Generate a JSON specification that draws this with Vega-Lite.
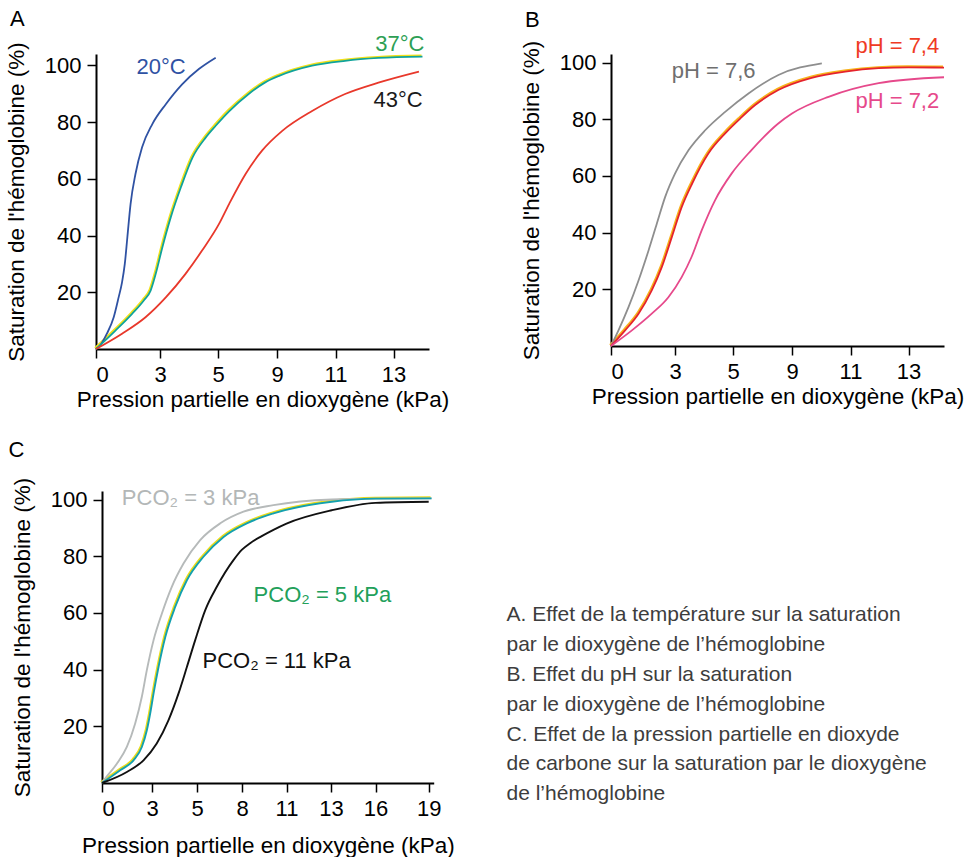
{
  "$schema": "https://vega.github.io/schema/vega-lite/v6.json",
  "autosize": {"type": "pad"},
  "padding": {"left": 5, "top": 8, "right": 0, "bottom": 0},
  "background": "white",
  "columns": 2,
  "spacing": {"row": 142, "column": 177},
  "bounds": "flush",
  "align": "each",
  "datasets": {
    "courbes": [
      {"panneau": "A", "courbe": "20 °C", "pO2": 0, "saturation": 0},
      {"panneau": "A", "courbe": "20 °C", "pO2": 0.12, "saturation": 0.6},
      {"panneau": "A", "courbe": "20 °C", "pO2": 0.51, "saturation": 5.4},
      {"panneau": "A", "courbe": "20 °C", "pO2": 0.83, "saturation": 11.2},
      {"panneau": "A", "courbe": "20 °C", "pO2": 1.06, "saturation": 18.2},
      {"panneau": "A", "courbe": "20 °C", "pO2": 1.22, "saturation": 23.5},
      {"panneau": "A", "courbe": "20 °C", "pO2": 1.35, "saturation": 30.0},
      {"panneau": "A", "courbe": "20 °C", "pO2": 1.47, "saturation": 39.4},
      {"panneau": "A", "courbe": "20 °C", "pO2": 1.62, "saturation": 51.1},
      {"panneau": "A", "courbe": "20 °C", "pO2": 1.85, "saturation": 61.7},
      {"panneau": "A", "courbe": "20 °C", "pO2": 2.16, "saturation": 71.1},
      {"panneau": "A", "courbe": "20 °C", "pO2": 2.64, "saturation": 79.3},
      {"panneau": "A", "courbe": "20 °C", "pO2": 3.2, "saturation": 86.3},
      {"panneau": "A", "courbe": "20 °C", "pO2": 3.77, "saturation": 93.4},
      {"panneau": "A", "courbe": "20 °C", "pO2": 4.34, "saturation": 98.7},
      {"panneau": "A", "courbe": "20 °C", "pO2": 4.92, "saturation": 102.7},
      {"panneau": "A", "courbe": "37 °C", "pO2": 0, "saturation": 0},
      {"panneau": "A", "courbe": "37 °C", "pO2": 0.91, "saturation": 6.5},
      {"panneau": "A", "courbe": "37 °C", "pO2": 1.69, "saturation": 12.4},
      {"panneau": "A", "courbe": "37 °C", "pO2": 2.24, "saturation": 17.1},
      {"panneau": "A", "courbe": "37 °C", "pO2": 2.56, "saturation": 20.6},
      {"panneau": "A", "courbe": "37 °C", "pO2": 2.8, "saturation": 26.5},
      {"panneau": "A", "courbe": "37 °C", "pO2": 3.08, "saturation": 35.8},
      {"panneau": "A", "courbe": "37 °C", "pO2": 3.37, "saturation": 46.4},
      {"panneau": "A", "courbe": "37 °C", "pO2": 3.72, "saturation": 57.0},
      {"panneau": "A", "courbe": "37 °C", "pO2": 4.12, "saturation": 67.5},
      {"panneau": "A", "courbe": "37 °C", "pO2": 4.58, "saturation": 74.6},
      {"panneau": "A", "courbe": "37 °C", "pO2": 4.92, "saturation": 78.7},
      {"panneau": "A", "courbe": "37 °C", "pO2": 5.75, "saturation": 83.8},
      {"panneau": "A", "courbe": "37 °C", "pO2": 7.1, "saturation": 90.0},
      {"panneau": "A", "courbe": "37 °C", "pO2": 8.2, "saturation": 94.0},
      {"panneau": "A", "courbe": "37 °C", "pO2": 9.07, "saturation": 96.3},
      {"panneau": "A", "courbe": "37 °C", "pO2": 10.2, "saturation": 99.9},
      {"panneau": "A", "courbe": "37 °C", "pO2": 11.33, "saturation": 101.6},
      {"panneau": "A", "courbe": "37 °C", "pO2": 12.48, "saturation": 102.6},
      {"panneau": "A", "courbe": "37 °C", "pO2": 13.98, "saturation": 103.1},
      {"panneau": "A", "courbe": "43 °C", "pO2": 0, "saturation": 0},
      {"panneau": "A", "courbe": "43 °C", "pO2": 1.22, "saturation": 5.4},
      {"panneau": "A", "courbe": "43 °C", "pO2": 2.32, "saturation": 11.2},
      {"panneau": "A", "courbe": "43 °C", "pO2": 3.2, "saturation": 18.2},
      {"panneau": "A", "courbe": "43 °C", "pO2": 3.88, "saturation": 26.5},
      {"panneau": "A", "courbe": "43 °C", "pO2": 4.45, "saturation": 34.7},
      {"panneau": "A", "courbe": "43 °C", "pO2": 5.07, "saturation": 44.1},
      {"panneau": "A", "courbe": "43 °C", "pO2": 5.75, "saturation": 51.1},
      {"panneau": "A", "courbe": "43 °C", "pO2": 6.88, "saturation": 61.8},
      {"panneau": "A", "courbe": "43 °C", "pO2": 8.0, "saturation": 70.0},
      {"panneau": "A", "courbe": "43 °C", "pO2": 9.18, "saturation": 76.9},
      {"panneau": "A", "courbe": "43 °C", "pO2": 10.2, "saturation": 83.9},
      {"panneau": "A", "courbe": "43 °C", "pO2": 11.33, "saturation": 89.9},
      {"panneau": "A", "courbe": "43 °C", "pO2": 12.48, "saturation": 93.9},
      {"panneau": "A", "courbe": "43 °C", "pO2": 13.86, "saturation": 97.8},
      {"panneau": "B", "courbe": "pH = 7,6", "pO2": 0, "saturation": 0},
      {"panneau": "B", "courbe": "pH = 7,6", "pO2": 0.35, "saturation": 5.5},
      {"panneau": "B", "courbe": "pH = 7,6", "pO2": 0.82, "saturation": 13.7},
      {"panneau": "B", "courbe": "pH = 7,6", "pO2": 1.29, "saturation": 23.1},
      {"panneau": "B", "courbe": "pH = 7,6", "pO2": 1.76, "saturation": 33.7},
      {"panneau": "B", "courbe": "pH = 7,6", "pO2": 2.15, "saturation": 43.2},
      {"panneau": "B", "courbe": "pH = 7,6", "pO2": 2.54, "saturation": 52.6},
      {"panneau": "B", "courbe": "pH = 7,6", "pO2": 3.0, "saturation": 60.8},
      {"panneau": "B", "courbe": "pH = 7,6", "pO2": 3.47, "saturation": 69.1},
      {"panneau": "B", "courbe": "pH = 7,6", "pO2": 4.04, "saturation": 76.1},
      {"panneau": "B", "courbe": "pH = 7,6", "pO2": 4.73, "saturation": 82.6},
      {"panneau": "B", "courbe": "pH = 7,6", "pO2": 6.05, "saturation": 89.1},
      {"panneau": "B", "courbe": "pH = 7,6", "pO2": 8.08, "saturation": 95.6},
      {"panneau": "B", "courbe": "pH = 7,6", "pO2": 10.02, "saturation": 99.7},
      {"panneau": "B", "courbe": "pH = 7,4", "pO2": 0, "saturation": 0},
      {"panneau": "B", "courbe": "pH = 7,4", "pO2": 0.66, "saturation": 5.5},
      {"panneau": "B", "courbe": "pH = 7,4", "pO2": 1.29, "saturation": 11.4},
      {"panneau": "B", "courbe": "pH = 7,4", "pO2": 1.91, "saturation": 19.6},
      {"panneau": "B", "courbe": "pH = 7,4", "pO2": 2.38, "saturation": 27.8},
      {"panneau": "B", "courbe": "pH = 7,4", "pO2": 2.85, "saturation": 38.4},
      {"panneau": "B", "courbe": "pH = 7,4", "pO2": 3.23, "saturation": 49.0},
      {"panneau": "B", "courbe": "pH = 7,4", "pO2": 3.6, "saturation": 57.5},
      {"panneau": "B", "courbe": "pH = 7,4", "pO2": 4.15, "saturation": 67.9},
      {"panneau": "B", "courbe": "pH = 7,4", "pO2": 4.73, "saturation": 75.0},
      {"panneau": "B", "courbe": "pH = 7,4", "pO2": 5.5, "saturation": 80.3},
      {"panneau": "B", "courbe": "pH = 7,4", "pO2": 6.48, "saturation": 84.9},
      {"panneau": "B", "courbe": "pH = 7,4", "pO2": 8.07, "saturation": 90.3},
      {"panneau": "B", "courbe": "pH = 7,4", "pO2": 9.67, "saturation": 94.6},
      {"panneau": "B", "courbe": "pH = 7,4", "pO2": 10.82, "saturation": 96.8},
      {"panneau": "B", "courbe": "pH = 7,4", "pO2": 11.97, "saturation": 98.0},
      {"panneau": "B", "courbe": "pH = 7,4", "pO2": 13.0, "saturation": 98.3},
      {"panneau": "B", "courbe": "pH = 7,4", "pO2": 14.2, "saturation": 98.2},
      {"panneau": "B", "courbe": "pH = 7,2", "pO2": 0, "saturation": 0},
      {"panneau": "B", "courbe": "pH = 7,2", "pO2": 0.98, "saturation": 5.5},
      {"panneau": "B", "courbe": "pH = 7,2", "pO2": 1.91, "saturation": 11.4},
      {"panneau": "B", "courbe": "pH = 7,2", "pO2": 2.69, "saturation": 17.2},
      {"panneau": "B", "courbe": "pH = 7,2", "pO2": 3.23, "saturation": 24.3},
      {"panneau": "B", "courbe": "pH = 7,2", "pO2": 3.57, "saturation": 31.4},
      {"panneau": "B", "courbe": "pH = 7,2", "pO2": 3.92, "saturation": 40.8},
      {"panneau": "B", "courbe": "pH = 7,2", "pO2": 4.38, "saturation": 51.4},
      {"panneau": "B", "courbe": "pH = 7,2", "pO2": 4.95, "saturation": 60.8},
      {"panneau": "B", "courbe": "pH = 7,2", "pO2": 6.25, "saturation": 69.1},
      {"panneau": "B", "courbe": "pH = 7,2", "pO2": 8.07, "saturation": 78.5},
      {"panneau": "B", "courbe": "pH = 7,2", "pO2": 9.0, "saturation": 82.0},
      {"panneau": "B", "courbe": "pH = 7,2", "pO2": 10.25, "saturation": 87.9},
      {"panneau": "B", "courbe": "pH = 7,2", "pO2": 11.97, "saturation": 92.7},
      {"panneau": "B", "courbe": "pH = 7,2", "pO2": 14.2, "saturation": 94.8},
      {"panneau": "C", "courbe": "PCO2 = 3 kPa", "pO2": 0, "saturation": 0},
      {"panneau": "C", "courbe": "PCO2 = 3 kPa", "pO2": 0.19, "saturation": 1.6},
      {"panneau": "C", "courbe": "PCO2 = 3 kPa", "pO2": 0.89, "saturation": 6.8},
      {"panneau": "C", "courbe": "PCO2 = 3 kPa", "pO2": 1.49, "saturation": 12.7},
      {"panneau": "C", "courbe": "PCO2 = 3 kPa", "pO2": 1.99, "saturation": 21.0},
      {"panneau": "C", "courbe": "PCO2 = 3 kPa", "pO2": 2.39, "saturation": 30.4},
      {"panneau": "C", "courbe": "PCO2 = 3 kPa", "pO2": 2.69, "saturation": 39.8},
      {"panneau": "C", "courbe": "PCO2 = 3 kPa", "pO2": 3.07, "saturation": 50.4},
      {"panneau": "C", "courbe": "PCO2 = 3 kPa", "pO2": 3.44, "saturation": 59.8},
      {"panneau": "C", "courbe": "PCO2 = 3 kPa", "pO2": 3.88, "saturation": 69.2},
      {"panneau": "C", "courbe": "PCO2 = 3 kPa", "pO2": 4.4, "saturation": 77.4},
      {"panneau": "C", "courbe": "PCO2 = 3 kPa", "pO2": 5.21, "saturation": 85.7},
      {"panneau": "C", "courbe": "PCO2 = 3 kPa", "pO2": 6.55, "saturation": 91.6},
      {"panneau": "C", "courbe": "PCO2 = 3 kPa", "pO2": 8.1, "saturation": 95.7},
      {"panneau": "C", "courbe": "PCO2 = 3 kPa", "pO2": 10.12, "saturation": 98.0},
      {"panneau": "C", "courbe": "PCO2 = 3 kPa", "pO2": 13.05, "saturation": 100.0},
      {"panneau": "C", "courbe": "PCO2 = 3 kPa", "pO2": 16.0, "saturation": 100.3},
      {"panneau": "C", "courbe": "PCO2 = 3 kPa", "pO2": 19.17, "saturation": 100.4},
      {"panneau": "C", "courbe": "PCO2 = 5 kPa", "pO2": 0, "saturation": 0},
      {"panneau": "C", "courbe": "PCO2 = 5 kPa", "pO2": 1.09, "saturation": 4.5},
      {"panneau": "C", "courbe": "PCO2 = 5 kPa", "pO2": 1.89, "saturation": 8.0},
      {"panneau": "C", "courbe": "PCO2 = 5 kPa", "pO2": 2.39, "saturation": 12.7},
      {"panneau": "C", "courbe": "PCO2 = 5 kPa", "pO2": 2.69, "saturation": 18.6},
      {"panneau": "C", "courbe": "PCO2 = 5 kPa", "pO2": 2.89, "saturation": 24.5},
      {"panneau": "C", "courbe": "PCO2 = 5 kPa", "pO2": 3.07, "saturation": 31.6},
      {"panneau": "C", "courbe": "PCO2 = 5 kPa", "pO2": 3.29, "saturation": 40.9},
      {"panneau": "C", "courbe": "PCO2 = 5 kPa", "pO2": 3.59, "saturation": 51.5},
      {"panneau": "C", "courbe": "PCO2 = 5 kPa", "pO2": 4.03, "saturation": 62.1},
      {"panneau": "C", "courbe": "PCO2 = 5 kPa", "pO2": 4.55, "saturation": 71.5},
      {"panneau": "C", "courbe": "PCO2 = 5 kPa", "pO2": 5.43, "saturation": 79.8},
      {"panneau": "C", "courbe": "PCO2 = 5 kPa", "pO2": 6.77, "saturation": 86.8},
      {"panneau": "C", "courbe": "PCO2 = 5 kPa", "pO2": 8.32, "saturation": 91.6},
      {"panneau": "C", "courbe": "PCO2 = 5 kPa", "pO2": 10.12, "saturation": 95.1},
      {"panneau": "C", "courbe": "PCO2 = 5 kPa", "pO2": 13.05, "saturation": 99.2},
      {"panneau": "C", "courbe": "PCO2 = 5 kPa", "pO2": 16.0, "saturation": 100.3},
      {"panneau": "C", "courbe": "PCO2 = 5 kPa", "pO2": 19.17, "saturation": 100.4},
      {"panneau": "C", "courbe": "PCO2 = 11 kPa", "pO2": 0, "saturation": 0},
      {"panneau": "C", "courbe": "PCO2 = 11 kPa", "pO2": 1.49, "saturation": 3.9},
      {"panneau": "C", "courbe": "PCO2 = 11 kPa", "pO2": 2.49, "saturation": 8.0},
      {"panneau": "C", "courbe": "PCO2 = 11 kPa", "pO2": 3.21, "saturation": 13.9},
      {"panneau": "C", "courbe": "PCO2 = 11 kPa", "pO2": 3.73, "saturation": 22.1},
      {"panneau": "C", "courbe": "PCO2 = 11 kPa", "pO2": 4.18, "saturation": 31.6},
      {"panneau": "C", "courbe": "PCO2 = 11 kPa", "pO2": 4.55, "saturation": 40.9},
      {"panneau": "C", "courbe": "PCO2 = 11 kPa", "pO2": 4.92, "saturation": 50.4},
      {"panneau": "C", "courbe": "PCO2 = 11 kPa", "pO2": 5.55, "saturation": 61.0},
      {"panneau": "C", "courbe": "PCO2 = 11 kPa", "pO2": 6.32, "saturation": 69.2},
      {"panneau": "C", "courbe": "PCO2 = 11 kPa", "pO2": 7.43, "saturation": 78.6},
      {"panneau": "C", "courbe": "PCO2 = 11 kPa", "pO2": 8.0, "saturation": 82.3},
      {"panneau": "C", "courbe": "PCO2 = 11 kPa", "pO2": 8.55, "saturation": 84.6},
      {"panneau": "C", "courbe": "PCO2 = 11 kPa", "pO2": 9.3, "saturation": 87.0},
      {"panneau": "C", "courbe": "PCO2 = 11 kPa", "pO2": 10.12, "saturation": 89.3},
      {"panneau": "C", "courbe": "PCO2 = 11 kPa", "pO2": 11.0, "saturation": 91.5},
      {"panneau": "C", "courbe": "PCO2 = 11 kPa", "pO2": 13.05, "saturation": 96.2},
      {"panneau": "C", "courbe": "PCO2 = 11 kPa", "pO2": 16.0, "saturation": 98.8},
      {"panneau": "C", "courbe": "PCO2 = 11 kPa", "pO2": 19.0, "saturation": 99.2}
    ],
    "etiquettes": [
      {"panneau": "A", "courbe": "20 °C", "texte": "20°C", "pO2": 1.9, "saturation": 96.8},
      {"panneau": "A", "courbe": "37 °C", "texte": "37°C", "pO2": 12.37, "saturation": 105.2},
      {"panneau": "A", "courbe": "43 °C", "texte": "43°C", "pO2": 12.31, "saturation": 85.2},
      {"panneau": "B", "courbe": "pH = 7,6", "texte": "pH = 7,6", "pO2": 2.85, "saturation": 94.4},
      {"panneau": "B", "courbe": "pH = 7,4", "texte": "pH = 7,4", "pO2": 11.17, "saturation": 103.2},
      {"panneau": "B", "courbe": "pH = 7,2", "texte": "pH = 7,2", "pO2": 11.17, "saturation": 83.8},
      {"panneau": "C", "courbe": "PCO2 = 3 kPa", "texte": "PCO₂ = 3 kPa", "pO2": 1.19, "saturation": 98.0},
      {"panneau": "C", "courbe": "PCO2 = 5 kPa", "texte": "PCO₂ = 5 kPa", "pO2": 8.78, "saturation": 63.9},
      {"panneau": "C", "courbe": "PCO2 = 11 kPa", "texte": "PCO₂ = 11 kPa", "pO2": 5.37, "saturation": 40.4}
    ],
    "legende": [
      {"colonne": 0, "ligne": 1, "texte": "A. Effet de la température sur la saturation"},
      {"colonne": 0, "ligne": 2, "texte": "par le dioxygène de l’hémoglobine"},
      {"colonne": 0, "ligne": 3, "texte": "B. Effet du pH sur la saturation"},
      {"colonne": 0, "ligne": 4, "texte": "par le dioxygène de l’hémoglobine"},
      {"colonne": 0, "ligne": 5, "texte": "C. Effet de la pression partielle en dioxyde"},
      {"colonne": 0, "ligne": 6, "texte": "de carbone sur la saturation par le dioxygène"},
      {"colonne": 0, "ligne": 7, "texte": "de l’hémoglobine"}
    ]
  },
  "concat": [
    {
      "width": 333,
      "height": 295,
      "title": {"text": "A", "anchor": "start", "frame": "group", "baseline": "alphabetic", "dx": -86, "offset": -15.9},
      "encoding": {
        "x": {"field": "pO2", "type": "quantitative",
              "scale": {"domain": [0, 3, 5, 9, 11, 13, 14.2], "range": [0, 64, 122, 181, 239.5, 297.5, 333], "nice": false, "zero": false},
              "axis": {"values": [0, 3, 5, 9, 11, 13], "title": "Pression partielle en dioxygène (kPa)", "titlePadding": 3}},
        "y": {"field": "saturation", "type": "quantitative",
              "scale": {"domain": [0, 104], "nice": false, "zero": false},
              "axis": {"values": [20, 40, 60, 80, 100], "title": "Saturation de l'hémoglobine (%)"}}
      },
      "layer": [
        {"data": {"name": "courbes"},
         "transform": [{"filter": "datum.courbe === '37 °C'"}],
         "mark": {"type": "line", "interpolate": "monotone", "color": "#f2e01a", "strokeWidth": 2, "xOffset": -1, "yOffset": -1},
         "encoding": {"detail": {"field": "courbe"}}},
        {"data": {"name": "courbes"},
         "transform": [{"filter": "datum.panneau === 'A'"}],
         "mark": {"type": "line", "interpolate": "monotone", "strokeWidth": 1.8},
         "encoding": {"stroke": {"field": "courbe", "type": "nominal", "legend": null,
           "scale": {"domain": ["20 °C", "37 °C", "43 °C", "pH = 7,6", "pH = 7,4", "pH = 7,2", "PCO2 = 3 kPa", "PCO2 = 5 kPa", "PCO2 = 11 kPa"],
                     "range": ["#2f52a3", "#10a39a", "#e8382b", "#8e8e8e", "#e5232c", "#e6498b", "#b6baba", "#14a0ae", "#111111"]}}}},
        {"data": {"name": "etiquettes"},
         "transform": [{"filter": "datum.panneau === 'A'"}],
         "mark": {"type": "text", "align": "left", "baseline": "alphabetic", "fontSize": 22},
         "encoding": {"text": {"field": "texte"},
           "fill": {"field": "courbe", "type": "nominal", "legend": null,
           "scale": {"domain": ["20 °C", "37 °C", "43 °C", "pH = 7,6", "pH = 7,4", "pH = 7,2", "PCO2 = 3 kPa", "PCO2 = 5 kPa", "PCO2 = 11 kPa"],
                     "range": ["#2f52a3", "#2e9f55", "#1a1a1a", "#6f6f6f", "#ef3b24", "#e6498b", "#b3b7b7", "#22a05a", "#111111"]}}}}
      ]
    },
    {
      "width": 333,
      "height": 292,
      "title": {"text": "B", "anchor": "start", "frame": "group", "baseline": "alphabetic", "dx": -86, "offset": -13.5},
      "encoding": {
        "x": {"field": "pO2", "type": "quantitative",
              "scale": {"domain": [0, 3, 5, 9, 11, 13, 14.2], "range": [0, 64, 122, 181, 239.5, 297.5, 333], "nice": false, "zero": false},
              "axis": {"values": [0, 3, 5, 9, 11, 13], "title": "Pression partielle en dioxygène (kPa)", "titlePadding": 3}},
        "y": {"field": "saturation", "type": "quantitative",
              "scale": {"domain": [0, 103], "nice": false, "zero": false},
              "axis": {"values": [20, 40, 60, 80, 100], "title": "Saturation de l'hémoglobine (%)"}}
      },
      "layer": [
        {"data": {"name": "courbes"},
         "transform": [{"filter": "datum.courbe === 'pH = 7,4'"}],
         "mark": {"type": "line", "interpolate": "monotone", "color": "#f7b21c", "strokeWidth": 2, "xOffset": -1, "yOffset": -1},
         "encoding": {"detail": {"field": "courbe"}}},
        {"data": {"name": "courbes"},
         "transform": [{"filter": "datum.panneau === 'B'"}],
         "mark": {"type": "line", "interpolate": "monotone", "strokeWidth": 1.8},
         "encoding": {"stroke": {"field": "courbe", "type": "nominal", "legend": null,
           "scale": {"domain": ["20 °C", "37 °C", "43 °C", "pH = 7,6", "pH = 7,4", "pH = 7,2", "PCO2 = 3 kPa", "PCO2 = 5 kPa", "PCO2 = 11 kPa"],
                     "range": ["#2f52a3", "#10a39a", "#e8382b", "#8e8e8e", "#e5232c", "#e6498b", "#b6baba", "#14a0ae", "#111111"]}}}},
        {"data": {"name": "etiquettes"},
         "transform": [{"filter": "datum.panneau === 'B'"}],
         "mark": {"type": "text", "align": "left", "baseline": "alphabetic", "fontSize": 22},
         "encoding": {"text": {"field": "texte"},
           "fill": {"field": "courbe", "type": "nominal", "legend": null,
           "scale": {"domain": ["20 °C", "37 °C", "43 °C", "pH = 7,6", "pH = 7,4", "pH = 7,2", "PCO2 = 3 kPa", "PCO2 = 5 kPa", "PCO2 = 11 kPa"],
                     "range": ["#2f52a3", "#2e9f55", "#1a1a1a", "#6f6f6f", "#ef3b24", "#e6498b", "#b3b7b7", "#22a05a", "#111111"]}}}}
      ]
    },
    {
      "width": 338,
      "height": 292,
      "title": {"text": "C", "anchor": "start", "frame": "group", "baseline": "alphabetic", "dx": -87.5, "offset": -1.5},
      "encoding": {
        "x": {"field": "pO2", "type": "quantitative",
              "scale": {"domain": [0, 3, 5, 8, 11, 13, 16, 19, 19.3], "range": [6, 56, 101, 146, 190.5, 235, 279.5, 332.7, 337.7], "nice": false, "zero": false},
              "axis": {"values": [0, 3, 5, 8, 11, 13, 16, 19], "title": "Pression partielle en dioxygène (kPa)", "titlePadding": 15}},
        "y": {"field": "saturation", "type": "quantitative",
              "scale": {"domain": [0, 103], "nice": false, "zero": false},
              "axis": {"values": [20, 40, 60, 80, 100], "title": "Saturation de l'hémoglobine (%)", "offset": -6}}
      },
      "layer": [
        {"data": {"name": "courbes"},
         "transform": [{"filter": "datum.courbe === 'PCO2 = 5 kPa'"}],
         "mark": {"type": "line", "interpolate": "monotone", "color": "#ecdc1a", "strokeWidth": 2, "xOffset": -1, "yOffset": -1},
         "encoding": {"detail": {"field": "courbe"}}},
        {"data": {"name": "courbes"},
         "transform": [{"filter": "datum.panneau === 'C'"}],
         "mark": {"type": "line", "interpolate": "monotone", "strokeWidth": 1.9},
         "encoding": {"stroke": {"field": "courbe", "type": "nominal", "legend": null,
           "scale": {"domain": ["20 °C", "37 °C", "43 °C", "pH = 7,6", "pH = 7,4", "pH = 7,2", "PCO2 = 3 kPa", "PCO2 = 5 kPa", "PCO2 = 11 kPa"],
                     "range": ["#2f52a3", "#10a39a", "#e8382b", "#8e8e8e", "#e5232c", "#e6498b", "#b6baba", "#14a0ae", "#111111"]}}}},
        {"data": {"name": "etiquettes"},
         "transform": [{"filter": "datum.panneau === 'C'"}],
         "mark": {"type": "text", "align": "left", "baseline": "alphabetic", "fontSize": 22},
         "encoding": {"text": {"field": "texte"},
           "fill": {"field": "courbe", "type": "nominal", "legend": null,
           "scale": {"domain": ["20 °C", "37 °C", "43 °C", "pH = 7,6", "pH = 7,4", "pH = 7,2", "PCO2 = 3 kPa", "PCO2 = 5 kPa", "PCO2 = 11 kPa"],
                     "range": ["#2f52a3", "#2e9f55", "#1a1a1a", "#6f6f6f", "#ef3b24", "#e6498b", "#b3b7b7", "#22a05a", "#111111"]}}}}
      ]
    },
    {
      "width": 350,
      "height": 292,
      "data": {"name": "legende"},
      "mark": {"type": "text", "align": "left", "baseline": "middle", "fontSize": 21, "color": "#3d3d3d", "dx": -104.5},
      "encoding": {
        "x": {"field": "colonne", "type": "quantitative", "scale": {"domain": [0, 1]}, "axis": null},
        "y": {"field": "ligne", "type": "quantitative", "scale": {"domain": [-3.167, 6.622], "reverse": true, "nice": false, "zero": false}, "axis": null},
        "text": {"field": "texte"}
      }
    }
  ],
  "config": {
    "font": "Liberation Sans",
    "view": {"stroke": null},
    "title": {"font": "Liberation Sans", "fontSize": 22, "fontWeight": "normal", "color": "#000"},
    "text": {"font": "Liberation Sans"},
    "axis": {
      "grid": false,
      "domainColor": "#000",
      "domainWidth": 2,
      "tickColor": "#000",
      "tickWidth": 1.5,
      "tickSize": 9,
      "labelFont": "Liberation Sans",
      "labelFontSize": 22,
      "labelColor": "#000",
      "labelPadding": 6,
      "labelOverlap": false,
      "titleFont": "Liberation Sans",
      "titleFontSize": 22.5,
      "titleFontWeight": "normal",
      "titleColor": "#000"
    },
    "axisY": {"titlePadding": 16, "labelPadding": 6}
  }
}
